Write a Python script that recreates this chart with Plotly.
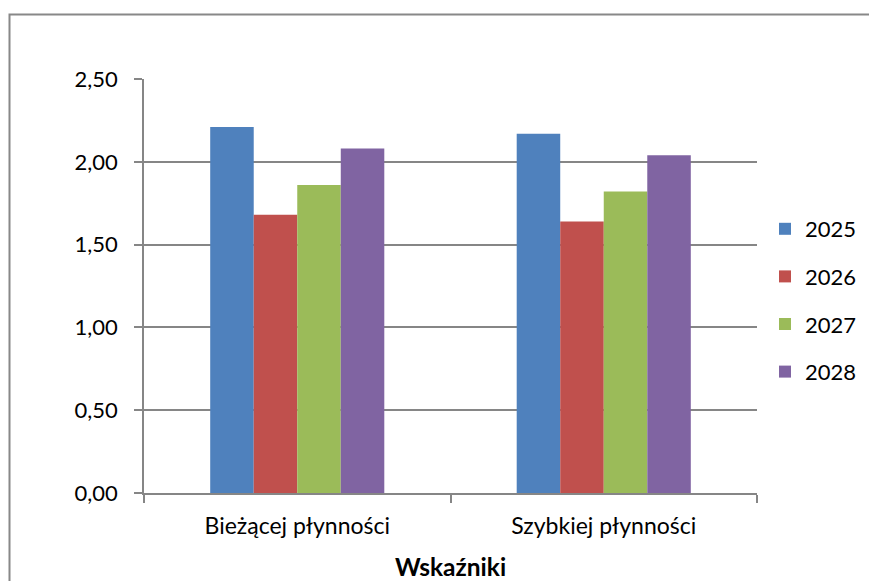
import plotly.graph_objects as go

categories = ["Bieżącej płynności", "Szybkiej płynności"]
years = ["2025", "2026", "2027", "2028"]
values_2025 = [2.21, 2.17]
values_2026 = [1.68, 1.64]
values_2027 = [1.86, 1.82]
values_2028 = [2.08, 2.04]
series = [values_2025, values_2026, values_2027, values_2028]
colors = ["#4F81BD", "#C0504D", "#9BBB59", "#8064A2"]
y_ticks = [0, 0.5, 1.0, 1.5, 2.0, 2.5]
y_tick_labels = ["0,00", "0,50", "1,00", "1,50", "2,00", "2,50"]

FONT = "Lato"
fig = go.Figure()
for name, vals, col in zip(years, series, colors):
    fig.add_trace(go.Bar(x=categories, y=vals, name=name, marker_color=col,
                         marker_line_width=0, legendgroup=name))

L, R, T, B = 144, 112, 79, 88
W, H = 869, 581
pw, ph = W - L - R, H - T - B

fig.update_layout(
    width=W, height=H,
    margin=dict(l=L, r=R, t=T, b=B, autoexpand=False),
    paper_bgcolor="white", plot_bgcolor="white",
    barmode="group", bargap=0.432, bargroupgap=0,
    font=dict(family=FONT, size=22, color="black"),
    showlegend=True,
    legend=dict(x=(765 - L) / pw, y=(H - 208 - B) / ph, xanchor="left", yanchor="top",
                font=dict(size=22), tracegroupgap=16, bgcolor="rgba(0,0,0,0)",
                itemwidth=30),
    xaxis=dict(showline=True, linecolor="#868686", linewidth=1.5,
               ticks="outside", tickson="boundaries", ticklen=8, tickcolor="#868686", tickwidth=1.5,
               tickfont=dict(size=23), showgrid=False, automargin=False,
               ticklabelstandoff=12,
               title=dict(text="<b>Wskaźniki</b>", font=dict(size=24.5), standoff=28)),
    yaxis=dict(range=[0, 2.5], tickvals=y_ticks, ticktext=y_tick_labels,
               showline=True, linecolor="#868686", linewidth=1.5,
               ticks="outside", ticklen=8, tickcolor="#868686", tickwidth=1.5,
               showgrid=True, gridcolor="#868686", gridwidth=1.5, automargin=False,
               ticklabelstandoff=12,
               zeroline=False, tickfont=dict(size=22)),
    shapes=[dict(type="rect", xref="paper", yref="paper",
                 x0=(9.5 - L) / pw, x1=(W + 20 - L) / pw,
                 y0=(-20 - B) / ph, y1=(H - 14.5 - B) / ph,
                 line=dict(color="#888888", width=2), fillcolor="rgba(0,0,0,0)", layer="below")],
)
fig.write_html("out.html", config={"displayModeBar": False},
               post_script="document.body.style.margin='0';")
